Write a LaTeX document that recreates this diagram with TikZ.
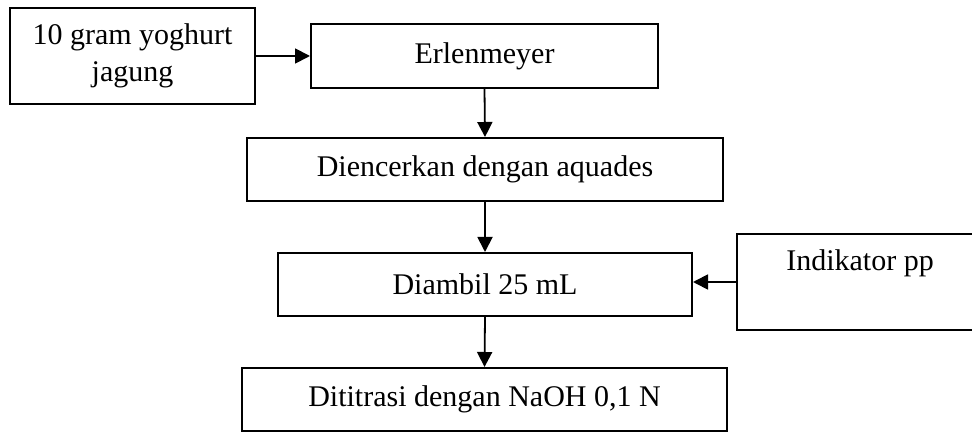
\documentclass[tikz,border=0pt]{standalone}
\usepackage{fontspec}
\setmainfont{Liberation Serif}
\usetikzlibrary{arrows.meta}
\begin{document}
\begin{tikzpicture}[x=0.5pt,y=-0.5pt,
  every node/.style={font=\fontsize{15pt}{18.5pt}\selectfont},
  procbox/.style={draw=black,line width=1pt,rectangle,inner sep=0pt,fill=white},
  flow/.style={draw=black,line width=0.9pt,-{Triangle[length=7.5pt,width=7.5pt]}}]
  \useasboundingbox (0,0) rectangle (972,432);
  \clip (0,0) rectangle (972,432);

  % process boxes
  \node[procbox,minimum width=122.5pt,minimum height=48pt,align=center]
    (sample) at (132.5,56) {10 gram yoghurt\\jagung};
  \node[procbox,minimum width=173.5pt,minimum height=32pt]
    (erlen) at (484.5,56) {Erlenmeyer};
  \node[procbox,minimum width=238pt,minimum height=31.5pt]
    (dilute) at (485,169.5) {Diencerkan dengan aquades};
  \node[procbox,minimum width=207pt,minimum height=31.5pt]
    (take) at (485,284.5) {Diambil 25 mL};
  \node[procbox,minimum width=124pt,minimum height=48pt]
    (indik) at (861,282) {};
  \node (indiktext) at (860,263) {Indikator pp};
  \node[procbox,minimum width=242.5pt,minimum height=31.5pt]
    (titr) at (484.5,399.5) {Dititrasi dengan NaOH 0,1 N};

  % connectors
  \draw[flow] (sample.east) -- (erlen.west);
  \draw[flow] (erlen.south) -- (dilute.north);
  \draw[flow] (dilute.south) -- (take.north);
  \draw[flow] (indik.west) -- (indik.west -| take.east);
  \draw[flow] (take.south) -- (titr.north);
\end{tikzpicture}
\end{document}
